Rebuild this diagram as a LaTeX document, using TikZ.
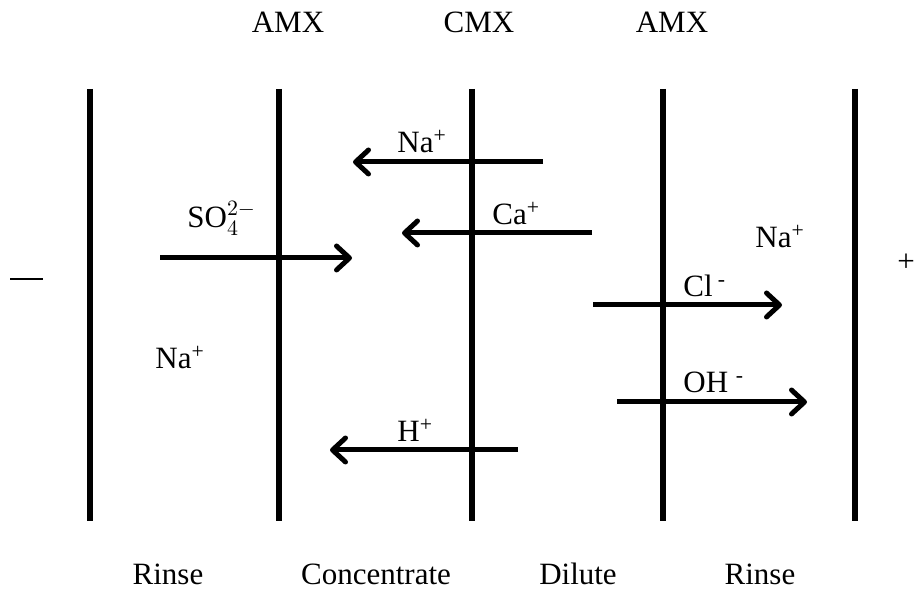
\documentclass[tikz,border=0pt]{standalone}
\usepackage{fontspec}
\setmainfont{Liberation Serif}
\usepackage{tikz}
\usetikzlibrary{arrows.meta}

\begin{document}
\begin{tikzpicture}[
x=0.5pt,y=-0.5pt,
every node/.style={inner sep=0pt,font=\fontsize{15.5}{18}\selectfont},
membrane/.style={line width=2.9pt},
flux/.style={
  line width=2.5pt,
  -{Straight Barb[length=6.5pt,width=12pt,round]}
  },
memname/.style={anchor=base},
ion/.style={anchor=base west}
]
\useasboundingbox (0,0) rectangle (917,593);
% membranes
\foreach \X [count=\i] in {90,279,472,663,855}
  \draw[membrane] (\X,89) coordinate (m\i t) -- (\X,521) coordinate (m\i b);
\node[memname] (amxa) at (288,33) {AMX};
\node[memname] (cmx) at (479,33) {CMX};
\node[memname] (amxb) at (672,33) {AMX};
\node[memname] (rinsea) at (168,585) {Rinse};
\node[memname] (conc) at (376,585) {Concentrate};
\node[memname] (dil) at (578,585) {Dilute};
\node[memname] (rinseb) at (760,585) {Rinse};
% electrodes
\coordinate (cathl) at (10,279);
\coordinate (cathr) at (43,279);
\draw[line width=1pt] (cathl) -- (cathr);
\node (anode) at (906,263) {+};
% ion fluxes
\coordinate (so4s) at (160,258);  \coordinate (so4e) at (352,258);
\coordinate (naas) at (543,162);  \coordinate (naae) at (353,162);
\coordinate (cas) at (592,233);   \coordinate (cae) at (402,233);
\coordinate (cls) at (593,305);   \coordinate (cle) at (782,305);
\coordinate (ohs) at (617,402);   \coordinate (ohe) at (807,402);
\coordinate (hs) at (518,450);    \coordinate (he) at (330,450);
\foreach \A/\B in {so4s/so4e,naas/naae,cas/cae,cls/cle,ohs/ohe,hs/he}
  \draw[flux] (\A) -- (\B);
\node[ion] (so4) at (187,228) {$\mathrm{SO}_4^{2-}$};
\node[ion] (naa) at (397,153) {Na\textsuperscript{+}};
\node[ion] (ca) at (492,225) {Ca\textsuperscript{+}};
\node[ion] (cl) at (683,297) {Cl\,\textsuperscript{-}};
\node[ion] (oh) at (683,393) {OH \textsuperscript{-}};
\node[ion] (h) at (397,442) {H\textsuperscript{+}};
\node[ion] (nab) at (155,369) {Na\textsuperscript{+}};
\node[ion] (nac) at (755,248) {Na\textsuperscript{+}};
\end{tikzpicture}
\end{document}
